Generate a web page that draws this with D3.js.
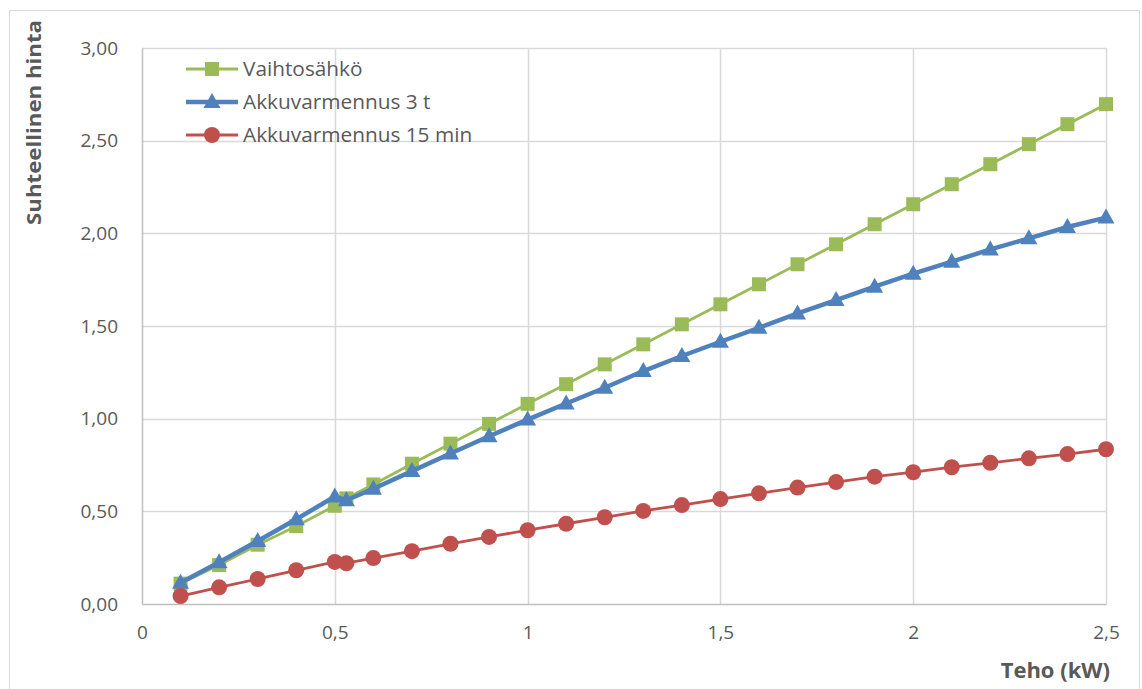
<!DOCTYPE html>
<html><head><meta charset="utf-8">
<script src="https://cdn.jsdelivr.net/npm/d3@7"></script>
<style>body{margin:0;background:#fff}svg{display:block}text{font-family:"Open Sans","Liberation Sans",sans-serif}</style>
</head><body><svg id="c" width="1142" height="689"></svg>
<script>
const xValues = [0.1,0.2,0.3,0.4,0.5,0.53,0.6,0.7,0.8,0.9,1.0,1.1,1.2,1.3,1.4,1.5,1.6,1.7,1.8,1.9,2.0,2.1,2.2,2.3,2.4,2.5];
const vaihtosahko = [0.11,0.21,0.32,0.42,0.53,0.57,0.645,0.757,0.865,0.972,1.08,1.186,1.293,1.401,1.509,1.617,1.725,1.833,1.941,2.049,2.157,2.265,2.373,2.481,2.589,2.697];
const akku3t = [0.115,0.225,0.34,0.457,0.58,0.56,0.622,0.717,0.812,0.905,0.995,1.082,1.167,1.257,1.338,1.415,1.49,1.568,1.64,1.712,1.782,1.847,1.913,1.973,2.034,2.085];
const akku15min = [0.043,0.09,0.135,0.182,0.227,0.22,0.248,0.285,0.325,0.362,0.398,0.433,0.468,0.502,0.534,0.566,0.597,0.628,0.658,0.687,0.711,0.738,0.762,0.786,0.809,0.835];
const seriesNames = ["Vaihtosähkö","Akkuvarmennus 3 t","Akkuvarmennus 15 min"];
const xTicks = [0,0.5,1,1.5,2,2.5];
const yTicks = [0,0.5,1,1.5,2,2.5,3];

const svg = d3.select("#c");
svg.append("rect").attr("x",9.5).attr("y",10.5).attr("width",1130).attr("height",690).attr("fill","none").attr("stroke","#d9d9d9");

const L=142,R=1106,T=48,B=604;
const x=d3.scaleLinear().domain([0,2.5]).range([L,R]);
const y=d3.scaleLinear().domain([0,3]).range([B,T]);
const fmtY=d=>d3.format(".2f")(d).replace(".",",");
const fmtX=d=>String(d).replace(".",",");

// gridlines
svg.append("g").selectAll("line").data(yTicks.slice(1)).join("line")
 .attr("x1",L).attr("x2",R).attr("y1",d=>Math.round(y(d))+0.5).attr("y2",d=>Math.round(y(d))+0.5)
 .attr("stroke","#d9d9d9").attr("stroke-width",1.5);
svg.append("g").selectAll("line").data(xTicks.slice(1)).join("line")
 .attr("y1",T).attr("y2",B).attr("x1",d=>Math.round(x(d))+0.5).attr("x2",d=>Math.round(x(d))+0.5)
 .attr("stroke","#d9d9d9").attr("stroke-width",1.5);

// axes
const ax=svg.append("g").attr("transform",`translate(0,${B})`).call(d3.axisBottom(x).tickValues(xTicks).tickFormat(fmtX).tickSize(0).tickPadding(22));
ax.select(".domain").attr("stroke","#bfbfbf").attr("stroke-width",1.5);
ax.selectAll("text").attr("font-size",19).attr("fill","#595959").style("font-family","'Open Sans',sans-serif");
const ay=svg.append("g").attr("transform",`translate(${L},0)`).call(d3.axisLeft(y).tickValues(yTicks).tickFormat(fmtY).tickSize(0).tickPadding(24));
ay.select(".domain").attr("stroke","#bfbfbf").attr("stroke-width",1.5);
ay.selectAll("text").attr("font-size",19).attr("fill","#595959").style("font-family","'Open Sans',sans-serif");

// titles
svg.append("text").attr("transform","translate(41,20) rotate(-90)").attr("text-anchor","end")
 .attr("font-size",19).attr("font-weight","bold").attr("fill","#595959").attr("textLength",205).attr("lengthAdjust","spacingAndGlyphs")
 .text("Suhteellinen hinta");
svg.append("text").attr("x",1110).attr("y",678).attr("text-anchor","end")
 .attr("font-size",22).attr("font-weight","bold").attr("fill","#595959").text("Teho (kW)");

const cols=["#9BBB59","#4F81BD","#C0504D"];
const widths=[2.8,4.5,2.8];
const data=[vaihtosahko,akku3t,akku15min];
const line=d3.line().x((d,i)=>x(xValues[i])).y(d=>y(d));
function marker(g,k,cx,cy){
  if(k===0) g.append("rect").attr("x",cx-7).attr("y",cy-7).attr("width",14).attr("height",14).attr("fill",cols[0]);
  else if(k===1) g.append("path").attr("d",`M${cx},${cy-9}L${cx+8.5},${cy+6}L${cx-8.5},${cy+6}Z`).attr("fill",cols[1]);
  else g.append("circle").attr("cx",cx).attr("cy",cy).attr("r",8).attr("fill",cols[2]);
}
data.forEach((s,k)=>{
  const g=svg.append("g");
  g.append("path").datum(s).attr("d",line).attr("fill","none").attr("stroke",cols[k]).attr("stroke-width",widths[k]).attr("stroke-linejoin","round");
  s.forEach((v,i)=>marker(g,k,x(xValues[i]),y(v)));
});

// legend
seriesNames.forEach((n,k)=>{
  const cy=69+k*33;
  const g=svg.append("g");
  g.append("line").attr("x1",186).attr("x2",238).attr("y1",cy).attr("y2",cy).attr("stroke",cols[k]).attr("stroke-width",widths[k]);
  marker(g,k,212,cy);
  g.append("text").attr("x",243).attr("y",cy+7).attr("font-size",20.8).attr("fill","#595959").text(n);
});
</script></body></html>
